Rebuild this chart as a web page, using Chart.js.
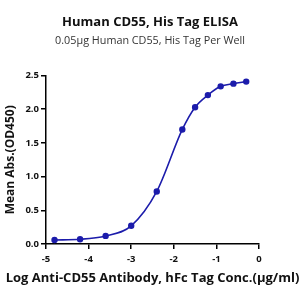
<!DOCTYPE html>
<html lang="en">
<head>
  <meta charset="UTF-8">
  <title>Human CD55, His Tag ELISA</title>
  <script src="https://cdn.jsdelivr.net/npm/chart.js"></script>
  <style>
    body { margin: 0; background: #ffffff; }
    .chart-box { width: 300px; height: 300px; }
  </style>
</head>
<body>
  <div class="chart-box">
    <canvas id="elisaChart"></canvas>
  </div>

<script>
  // dados
  const logConc = [-4.8, -4.2, -3.6, -3.0, -2.4, -1.8, -1.5, -1.2, -0.9, -0.6, -0.3];
  const meanAbs = [0.06, 0.07, 0.12, 0.27, 0.78, 1.70, 2.03, 2.21, 2.34, 2.38, 2.41];
  const xTicks = [-5, -4, -3, -2, -1, 0];
  const yTicks = [0, 0.5, 1.0, 1.5, 2.0, 2.5];
  const tituloX = 'Log Anti-CD55 Antibody, hFc Tag Conc.(μg/ml)';

  const pontos = logConc.map((x, i) => ({ x: x, y: meanAbs[i] }));
  const azul = '#1c1cab';
  const fonte = "'Open Sans', 'Noto Sans', sans-serif";

  // o título do eixo x é mais largo que o eixo, então desenho ele aqui
  const tituloEixoX = {
    id: 'tituloEixoX',
    afterDraw(chart) {
      const ctx = chart.ctx;
      const area = chart.chartArea;
      ctx.save();
      ctx.font = 'bold 13px ' + fonte;
      ctx.fillStyle = '#111111';
      ctx.textAlign = 'center';
      ctx.textBaseline = 'middle';
      ctx.fillText(tituloX, (area.left + area.right) / 2, area.bottom + 34);
      ctx.restore();
    }
  };

  new Chart(document.getElementById('elisaChart').getContext('2d'), {
    type: 'scatter',
    data: {
      datasets: [{
        data: pontos,
        showLine: true,
        cubicInterpolationMode: 'monotone',
        borderColor: azul,
        backgroundColor: azul,
        borderWidth: 1.6,
        pointRadius: 2.4,
        pointHoverRadius: 2.4
      }]
    },
    plugins: [tituloEixoX],
    options: {
      responsive: true,
      maintainAspectRatio: false,
      animation: false,
      layout: { padding: { left: 0, right: 0, top: 6, bottom: 6 } },
      plugins: {
        legend: { display: false },
        tooltip: { enabled: false },
        title: {
          display: true,
          text: 'Human CD55, His Tag ELISA',
          color: '#111111',
          font: { family: fonte, size: 13, weight: 'bold' },
          padding: { top: 8, bottom: 3 }
        },
        subtitle: {
          display: true,
          text: '0.05μg Human CD55, His Tag Per Well',
          color: '#333333',
          font: { family: fonte, size: 10.8 },
          padding: { top: 2, bottom: 28 }
        }
      },
      scales: {
        x: {
          type: 'linear',
          min: -5,
          max: 0,
          afterBuildTicks: s => { s.ticks = xTicks.map(v => ({ value: v })); },
          afterFit: s => { s.height = 50; },
          border: { color: '#000000', width: 1.5 },
          grid: { drawOnChartArea: false, color: '#000000', lineWidth: 1.5, tickLength: 5 },
          ticks: {
            color: '#111111',
            padding: 5,
            font: { family: fonte, size: 9.5, weight: 'bold' },
            callback: v => String(v)
          }
        },
        y: {
          min: 0,
          max: 2.5,
          afterBuildTicks: s => { s.ticks = yTicks.map(v => ({ value: v })); },
          afterFit: s => { s.width = 46; },
          border: { color: '#000000', width: 1.5 },
          grid: { drawOnChartArea: false, color: '#000000', lineWidth: 1.5, tickLength: 5 },
          ticks: {
            color: '#111111',
            padding: 2,
            font: { family: fonte, size: 9.5, weight: 'bold' },
            callback: v => v.toFixed(1)
          },
          title: {
            display: true,
            text: 'Mean Abs.(OD450)',
            color: '#111111',
            font: { family: fonte, size: 12, weight: 'bold' },
            padding: { top: 3, bottom: 2 }
          }
        },
        // eixo vazio só para reservar a margem direita
        yDir: {
          position: 'right',
          afterFit: s => { s.width = 41; },
          border: { display: false },
          grid: { display: false },
          ticks: { display: false }
        }
      }
    }
  });
</script>
</body>
</html>
